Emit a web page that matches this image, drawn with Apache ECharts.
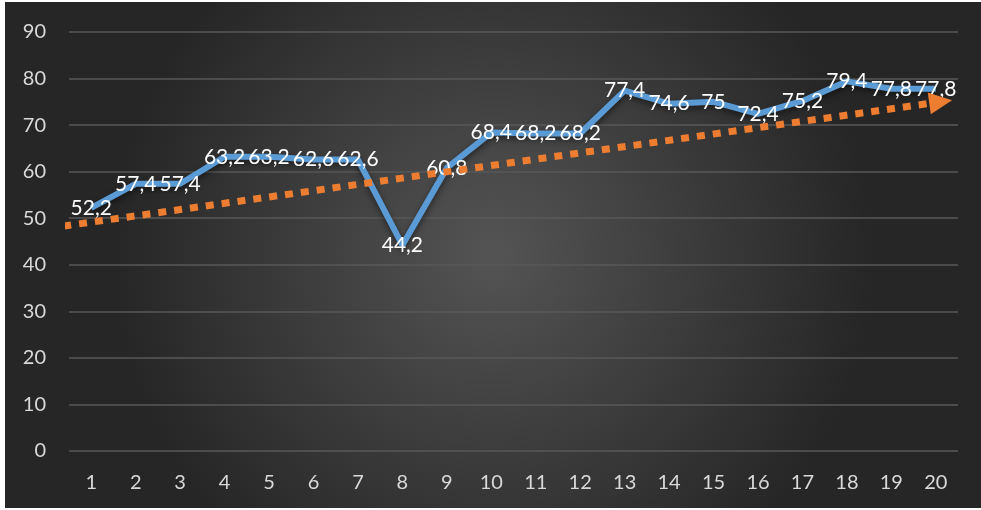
<!DOCTYPE html>
<html>
<head>
<meta charset="utf-8">
<script src="https://cdn.jsdelivr.net/npm/echarts@6/dist/echarts.min.js"></script>
<style>
html,body{margin:0;padding:0;background:#fff;}
#c{position:absolute;left:5px;top:2px;width:976px;height:506px;}
</style>
</head>
<body>
<div id="c"></div>
<script>
const categories = ['1','2','3','4','5','6','7','8','9','10','11','12','13','14','15','16','17','18','19','20'];
const values = [52.2,57.4,57.4,63.2,63.2,62.6,62.6,44.2,60.8,68.4,68.2,68.2,77.4,74.6,75,72.4,75.2,79.4,77.8,77.8];
const trendStart = [0.37, 48.3];
const trendEnd = [20.11, 75.0];

const chart = echarts.init(document.getElementById('c'));
const font = 'Lato, "Open Sans", sans-serif';
chart.setOption({
  animation:false,
  backgroundColor:{type:'radial',x:0.5,y:0.5,r:0.75,colorStops:[{offset:0,color:'#545454'},{offset:1,color:'#262626'}]},
  grid:{left:64,right:23,top:30,bottom:57},
  xAxis:[{
    type:'category',data:categories,boundaryGap:true,
    axisLine:{show:false},axisTick:{show:false},
    axisLabel:{color:'#d9d9d9',fontSize:20,fontFamily:font,margin:22}
  },{
    type:'value',min:0.5,max:20.5,show:false
  }],
  yAxis:{
    type:'value',min:0,max:90,interval:10,
    axisLine:{show:false},axisTick:{show:false},
    axisLabel:{color:'#d9d9d9',fontSize:20,fontFamily:font,margin:23},
    splitLine:{lineStyle:{color:'#595959',width:1.5}}
  },
  series:[{
    type:'line',data:values,xAxisIndex:0,
    symbol:'circle',symbolSize:1,showSymbol:true,showAllSymbol:true,
    itemStyle:{color:'rgba(0,0,0,0)'},
    lineStyle:{color:'#5b9bd5',width:6,shadowColor:'rgba(0,0,0,0.5)',shadowBlur:6,shadowOffsetY:3},
    label:{show:true,position:'inside',color:'#ffffff',fontSize:21,fontFamily:font,
      formatter:p=>String(p.value).replace('.',',')},
    z:3
  },{
    type:'line',xAxisIndex:1,yAxisIndex:0,clip:false,
    data:[
      {value:trendStart,symbol:'none'},
      {value:trendEnd,symbol:'triangle',symbolSize:[22,23],symbolRotate:-82}
    ],
    showSymbol:true,
    itemStyle:{color:'#ed7d31'},
    lineStyle:{color:'#ed7d31',width:7,type:[8,8],cap:'butt'},
    z:4
  }]
});
</script>
</body>
</html>
